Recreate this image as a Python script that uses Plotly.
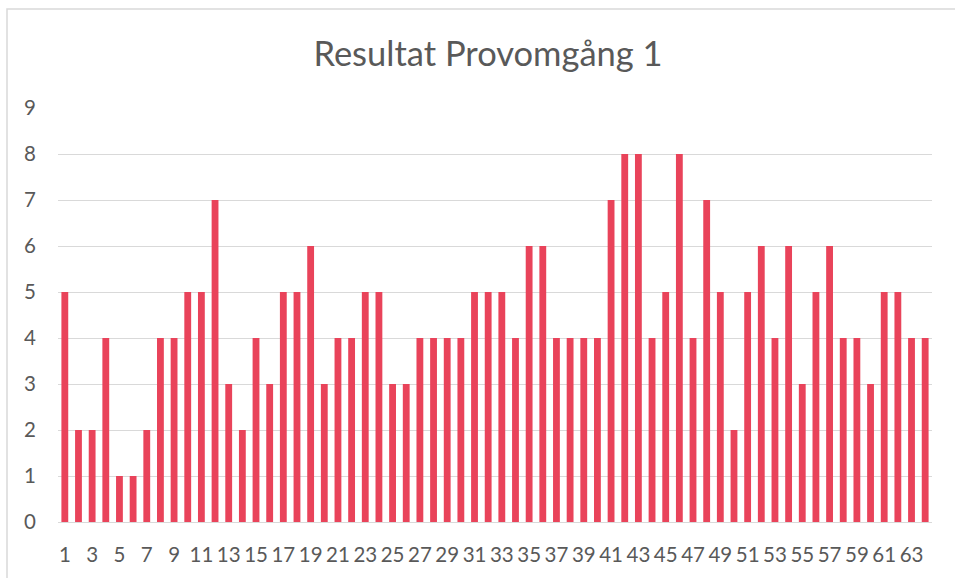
import plotly.graph_objects as go

categories = list(range(1, 65))
values = [5, 2, 2, 4, 1, 1, 2, 4, 4, 5, 5, 7, 3, 2, 4, 3, 5, 5, 6, 3,
          4, 4, 5, 5, 3, 3, 4, 4, 4, 4, 5, 5, 5, 4, 6, 6, 4, 4, 4, 4,
          7, 8, 8, 4, 5, 8, 4, 7, 5, 2, 5, 6, 4, 6, 3, 5, 6, 4, 4, 3,
          5, 5, 4, 4]
tick_labels = [str(c) for c in categories[::2]]
tick_vals = categories[::2]
y_ticks = list(range(0, 10))

fig = go.Figure(go.Bar(x=categories, y=values, marker_color="#E9435A",
                       marker_line_width=0))

FONT = "Lato, Noto Sans, sans-serif"
fig.update_layout(
    width=955, height=578,
    margin=dict(l=58, r=23, t=108, b=56),
    paper_bgcolor="white", plot_bgcolor="white",
    bargap=0.5,
    showlegend=False,
    font=dict(family=FONT, color="#595959", size=20.5),
    title=dict(text="Resultat Provomgång 1", x=0.511, xanchor="center",
               y=1 - 54 / 578, yanchor="middle",
               font=dict(size=34.5, color="#595959", family=FONT)),
    xaxis=dict(range=[0.5, 64.5], tickmode="array", tickvals=tick_vals,
               ticktext=tick_labels, showgrid=False, showline=False,
               zeroline=False, ticks="", ticklabelstandoff=18,
               tickfont=dict(size=20.5, color="#595959")),
    yaxis=dict(range=[0, 9], tickmode="array", tickvals=y_ticks,
               showgrid=True, gridcolor="#D9D9D9", gridwidth=1.3,
               zeroline=True, zerolinecolor="#D9D9D9", zerolinewidth=1.3,
               ticks="", ticklabelstandoff=21,
               tickfont=dict(size=20.5, color="#595959")),
    shapes=[dict(type="rect", xref="paper", yref="paper",
                 x0=-51/874, x1=1 + 40/874, y0=-80/414, y1=1 + 99/414,
                 line=dict(color="#D9D9D9", width=1.5), fillcolor="rgba(0,0,0,0)",
                 layer="below")],
)

fig.write_html("out.html", config={"displayModeBar": False},
               post_script="document.body.style.margin='0';document.body.style.overflow='hidden';")
